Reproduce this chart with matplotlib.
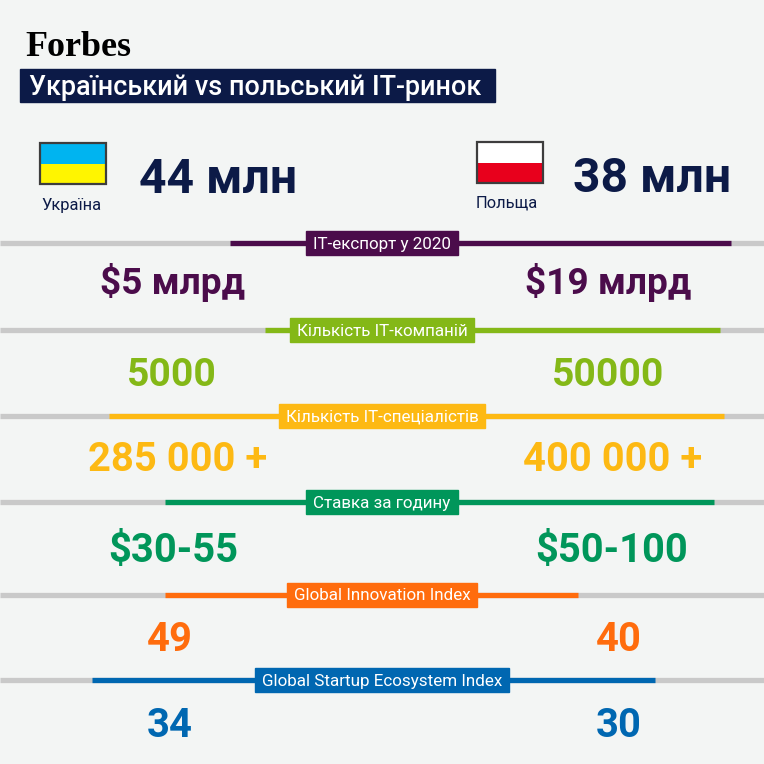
import matplotlib
matplotlib.use('Agg')
import matplotlib.pyplot as plt
from matplotlib.patches import Rectangle
from matplotlib import font_manager

# --- data ---
countries = ['Україна', 'Польща']
population = ['44 млн', '38 млн']
metrics = ['IT-експорт у 2020', 'Кількість IT-компаній', 'Кількість IT-спеціалістів',
           'Ставка за годину', 'Global Innovation Index', 'Global Startup Ecosystem Index']
ua_values = ['$5 млрд', '5000', '285 000 +', '$30-55', '49', '34']
pl_values = ['$19 млрд', '50000', '400 000 +', '$50-100', '40', '30']
metric_colors = ['#4b0c4b', '#84b817', '#fdb913', '#00965a', '#ff6c0d', '#0067b1']

# --- layout (pixels) ---
W = 764
bg = '#f3f5f4'
navy = '#0c1a47'
row_y = [243, 330, 415.5, 502, 594.5, 680]
value_base = [294, 386, 471, 562, 651, 737]
value_px = [37, 39, 40, 40, 40, 40]
seg = [(230, 731), (265, 720), (109, 724), (165, 714), (165, 578), (92, 655)]
box_cx = 382
left_cx, right_cx = [172, 172, 178, 173, 170, 170], [608, 608, 613, 612, 619, 619]


def pick(names):
    have = {f.name for f in font_manager.fontManager.ttflist}
    for n in names:
        if n in have:
            return n
    return 'DejaVu Sans'


sans = pick(['Roboto', 'Inter', 'DejaVu Sans'])
serif = pick(['Liberation Serif', 'DejaVu Serif'])


def pt(px):
    return px * 0.72


fig = plt.figure(figsize=(7.64, 7.64), dpi=100, facecolor=bg)
ax = fig.add_axes([0, 0, 1, 1])
ax.set_xlim(0, W)
ax.set_ylim(W, 0)
ax.axis('off')
ax.set_facecolor(bg)

# header
ax.text(25, 56, 'Forbes', fontfamily=serif, fontweight='bold', fontsize=pt(36),
        color='black', va='baseline', ha='left')
ax.add_patch(Rectangle((20, 69), 475, 33, color=navy, zorder=1))
ax.text(29, 95, 'Український vs польський IT-ринок', fontfamily=sans, fontweight='medium',
        fontsize=pt(27), color='white', va='baseline', ha='left', zorder=2)

# flags
ax.add_patch(Rectangle((40, 143), 66, 20.5, facecolor='#00b4f0', edgecolor='none', zorder=2))
ax.add_patch(Rectangle((40, 163.5), 66, 20.5, facecolor='#fff500', edgecolor='none', zorder=2))
ax.add_patch(Rectangle((40, 143), 66, 41, fill=False, edgecolor='#3d3d3d', lw=1.6, zorder=3))
ax.add_patch(Rectangle((477, 142), 66, 20.5, facecolor='white', edgecolor='none', zorder=2))
ax.add_patch(Rectangle((477, 162.5), 66, 20.5, facecolor='#e8001c', edgecolor='none', zorder=2))
ax.add_patch(Rectangle((477, 142), 66, 41, fill=False, edgecolor='#3d3d3d', lw=1.6, zorder=3))

ax.text(41, 210, countries[0], fontfamily=sans, fontsize=pt(16.5), color=navy, va='baseline')
ax.text(476, 207, countries[1], fontfamily=sans, fontsize=pt(16.5), color=navy, va='baseline')
ax.text(139, 193, population[0], fontfamily=sans, fontweight='bold', fontsize=pt(48),
        color=navy, va='baseline')
ax.text(573, 192, population[1], fontfamily=sans, fontweight='bold', fontsize=pt(48),
        color=navy, va='baseline')

fig.canvas.draw()
renderer = fig.canvas.get_renderer()
inv = ax.transData.inverted()

for i, name in enumerate(metrics):
    y = row_y[i]
    c = metric_colors[i]
    ax.plot([0, W], [y, y], color='#c9c9c9', lw=3.8, solid_capstyle='butt', zorder=1)
    ax.plot(seg[i], [y, y], color=c, lw=3.8, solid_capstyle='butt', zorder=2)
    t = ax.text(box_cx, y + 6, name, fontfamily=sans, fontsize=pt(17), color='white',
                ha='center', va='baseline', zorder=4)
    bb = t.get_window_extent(renderer)
    (x0, _), (x1, _) = inv.transform([(bb.x0, bb.y0), (bb.x1, bb.y1)])
    ax.add_patch(Rectangle((x0 - 7, y - 12), (x1 - x0) + 14, 24, color=c, zorder=3))

    ax.text(left_cx[i], value_base[i], ua_values[i], fontfamily=sans, fontweight='bold',
            fontsize=pt(value_px[i]), color=c, ha='center', va='baseline')
    ax.text(right_cx[i], value_base[i], pl_values[i], fontfamily=sans, fontweight='bold',
            fontsize=pt(value_px[i]), color=c, ha='center', va='baseline')

fig.savefig('out.png', dpi=100, facecolor=bg)
